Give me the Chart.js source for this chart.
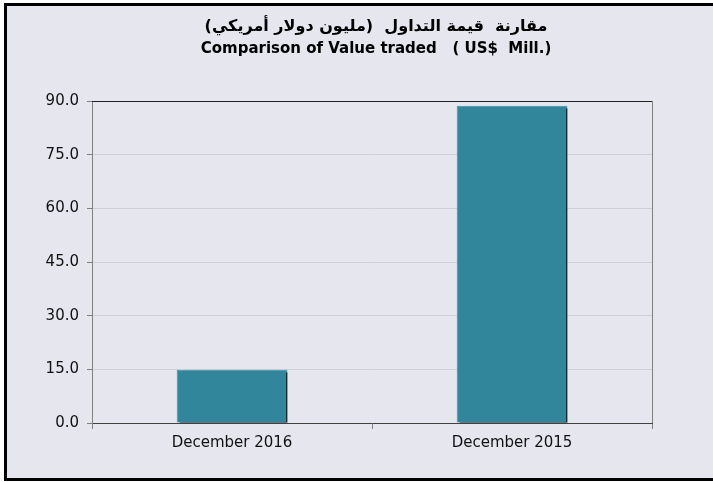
<!DOCTYPE html>
<html>
<head>
<meta charset="utf-8">
<script src="https://cdn.jsdelivr.net/npm/chart.js@4.4.0/dist/chart.umd.min.js"></script>
<style>
  html, body { margin: 0; padding: 0; background: #ffffff; }
  #frame {
    position: absolute; left: 4px; top: 3px;
    width: 720px; height: 472px;
    border-left: 3px solid #000; border-top: 3px solid #000; border-bottom: 3px solid #000;
    background: #e6e6ee;
  }
  #wrap { position: absolute; left: 0; top: 0; width: 706px; height: 472px; }
</style>
</head>
<body>
<div id="frame"><div id="wrap"><canvas id="chart"></canvas></div></div>
<script>
const categories = ['December 2016', 'December 2015'];
const valueTraded = [14.9, 88.7];
const titleLines = ['مقارنة  قيمة التداول  (مليون دولار أمريكي)', 'Comparison of Value traded   ( US$  Mill.)'];
const yTicks = [0, 15, 30, 45, 60, 75, 90];

// shadow behind each bar, offset to the lower right
const barShadow = {
  id: 'barShadow',
  beforeDatasetsDraw(chart) {
    const ctx = chart.ctx;
    ctx.save();
    ctx.shadowColor = '#000000';
    ctx.shadowOffsetX = 3;
    ctx.shadowOffsetY = 2;
    ctx.shadowBlur = 0;
  },
  afterDatasetsDraw(chart) {
    chart.ctx.restore();
  }
};

// plot frame and the two-line title
const frameAndTitle = {
  id: 'frameAndTitle',
  afterDraw(chart) {
    const { ctx, chartArea: a } = chart;
    ctx.save();
    ctx.lineWidth = 1;
    ctx.strokeStyle = '#222';
    ctx.beginPath();
    ctx.moveTo(a.left, a.top + 0.5);
    ctx.lineTo(a.right, a.top + 0.5);
    ctx.stroke();
    ctx.strokeStyle = '#808080';
    ctx.beginPath();
    ctx.moveTo(a.right + 0.5, a.top);
    ctx.lineTo(a.right + 0.5, a.bottom);
    ctx.stroke();

    const cx = (a.left + a.right) / 2 + 4;
    ctx.fillStyle = '#000';
    ctx.textAlign = 'center';
    ctx.textBaseline = 'middle';
    ctx.font = 'bold 16px "DejaVu Sans"';
    ctx.fillText(titleLines[0], cx, 21);
    ctx.font = 'bold 15px "DejaVu Sans"';
    ctx.fillText(titleLines[1], cx, 43);
    ctx.restore();
  }
};

new Chart(document.getElementById('chart'), {
  type: 'bar',
  data: {
    labels: categories,
    datasets: [{
      data: valueTraded,
      backgroundColor: '#31869b',
      borderColor: '#3f93a7',
      borderWidth: 1,
      barPercentage: 0.395,
      categoryPercentage: 1
    }]
  },
  options: {
    responsive: true,
    maintainAspectRatio: false,
    animation: false,
    layout: { padding: { left: 0, top: 95, right: 61, bottom: 0 } },
    plugins: {
      legend: { display: false },
      tooltip: { enabled: false },
      title: { display: false }
    },
    scales: {
      x: {
        offset: true,
        afterFit: s => { s.height = 55; },
        grid: {
          offset: true,
          drawOnChartArea: false,
          drawTicks: true,
          tickLength: 6,
          tickColor: '#808080'
        },
        border: { color: '#404040', width: 1 },
        ticks: {
          color: '#111',
          padding: 5,
          font: { family: 'DejaVu Sans', size: 15 }
        }
      },
      y: {
        min: 0,
        max: 90,
        afterFit: s => { s.width = 85; },
        afterBuildTicks: s => { s.ticks = yTicks.map(v => ({ value: v })); },
        grid: {
          color: '#cfcfd6',
          drawTicks: true,
          tickLength: 5,
          tickColor: '#808080'
        },
        border: { color: '#808080', width: 1 },
        ticks: {
          color: '#111',
          padding: 8,
          font: { family: 'DejaVu Sans', size: 15 },
          callback: v => v.toFixed(1)
        }
      }
    }
  },
  plugins: [barShadow, frameAndTitle]
});
</script>
</body>
</html>
